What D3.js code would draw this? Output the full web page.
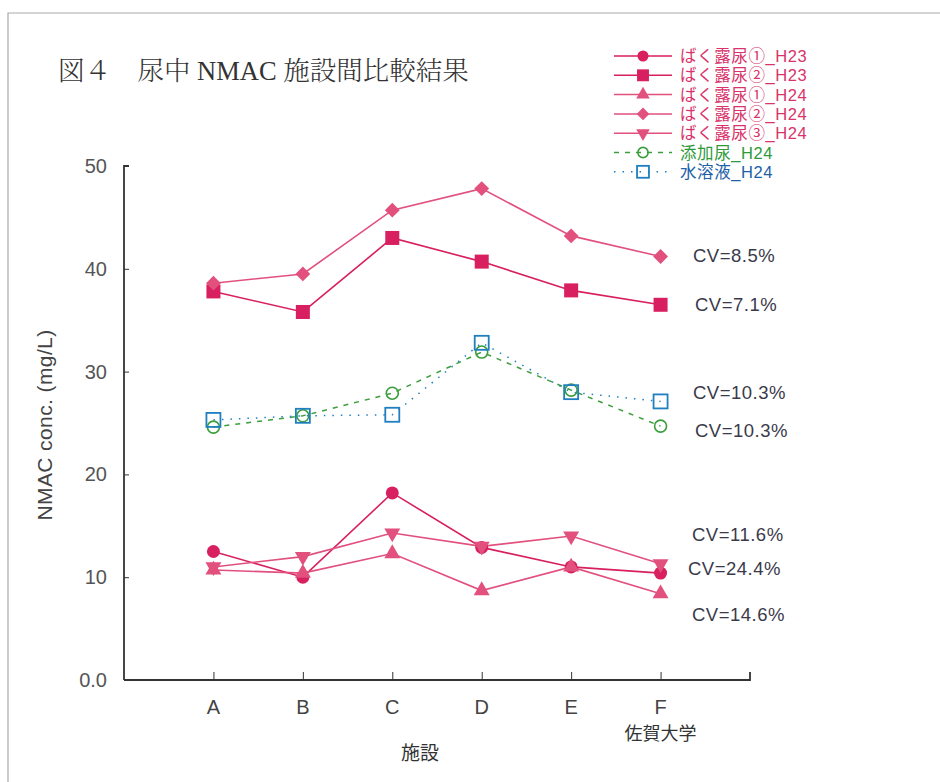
<!DOCTYPE html>
<html><head><meta charset="utf-8">
<script src="https://cdn.jsdelivr.net/npm/d3@7"></script>
<style>body{margin:0;background:#fff}svg{display:block}</style>
</head><body>
<svg id="c" width="940" height="782"></svg>
<script>
const categories = ["A","B","C","D","E","F"];
const seriesNames = ["ばく露尿①_H23","ばく露尿②_H23","ばく露尿①_H24","ばく露尿②_H24","ばく露尿③_H24","添加尿_H24","水溶液_H24"];
const exp1H23 = [12.5,10.0,18.2,12.9,11.0,10.4];
const exp2H23 = [37.8,35.8,43.0,40.7,37.9,36.5];
const exp1H24 = [10.7,10.4,12.3,8.7,11.0,8.4];
const exp2H24 = [38.6,39.5,45.7,47.8,43.2,41.2];
const exp3H24 = [11.0,12.0,14.3,13.0,14.0,11.3];
const spikedH24 = [24.6,25.7,27.9,31.9,28.2,24.7];
const aqueousH24 = [25.3,25.7,25.8,32.8,28.0,27.1];
const yTicks = [0,10,20,30,40,50];
const cvLabels = [
  {text:"CV=8.5%", v:41.2},{text:"CV=7.1%", v:36.5},
  {text:"CV=10.3%", v:27.9},{text:"CV=10.3%", v:24.2},
  {text:"CV=11.6%", v:14.1},{text:"CV=24.4%", v:10.8},{text:"CV=14.6%", v:6.3}
];
const cvX = [693,695,693,695,692,688,692];

const svg = d3.select("#c");
const pink = "#d81f5f", pink2 = "#e2507e", green = "#3c9e3c", blue = "#1f7fc0";
const series = [
  {name:seriesNames[0], vals:exp1H23, color:pink, sym:"circle", fill:true, dash:null, tc:"#d8336a"},
  {name:seriesNames[1], vals:exp2H23, color:pink, sym:"square", fill:true, dash:null, tc:"#d8336a"},
  {name:seriesNames[2], vals:exp1H24, color:pink2, sym:"tri", fill:true, dash:null, tc:"#d8336a"},
  {name:seriesNames[3], vals:exp2H24, color:pink2, sym:"diamond", fill:true, dash:null, tc:"#d8336a"},
  {name:seriesNames[4], vals:exp3H24, color:pink2, sym:"trid", fill:true, dash:null, tc:"#d8336a"},
  {name:seriesNames[5], vals:spikedH24, color:green, sym:"ocircle", fill:false, dash:"5,6", tc:"#2e9a3a"},
  {name:seriesNames[6], vals:aqueousH24, color:blue, sym:"osquare", fill:false, dash:"1.5,7", tc:"#1d5fa8"}
];

// frame
svg.append("path").attr("d","M8,782 V13 H940").attr("fill","none").attr("stroke","#aaa").attr("stroke-width",1.2);

// title
svg.append("text").attr("x",58).attr("y",80)
  .attr("font-family","'Liberation Serif','Noto Serif CJK JP','Noto Sans CJK JP',serif")
  .attr("font-size",26.5).attr("fill","#333").attr("font-weight",300)
  .text("図４　尿中 NMAC 施設間比較結果");

const x = d3.scaleLinear().domain([0,7]).range([124,750]);
const y = d3.scaleLinear().domain([0,50]).range([680,166]);

// axes
const gy = svg.append("g").attr("transform","translate(124,0)")
  .call(d3.axisRight(y).tickValues(yTicks).tickSize(5).tickFormat(()=>"" ));
gy.select(".domain").attr("d",`M5,${y(50)}H0V${y(0)}`).attr("stroke","#333").attr("stroke-width",1.8);
gy.selectAll(".tick line").attr("stroke","#333");
svg.append("g").selectAll("text").data(yTicks).join("text")
  .attr("x",107).attr("y",d=>y(d)+7).attr("text-anchor","end")
  .attr("font-family","Arial,'Liberation Sans',sans-serif").attr("font-size",20).attr("fill","#555")
  .text(d=>d===0?"0.0":d);

const gx = svg.append("g").attr("transform","translate(0,680)")
  .call(d3.axisTop(x).tickValues([1,2,3,4,5,6]).tickSize(8).tickFormat(""));
gx.select(".domain").attr("d",`M124,0H750V-8`).attr("stroke","#333").attr("stroke-width",1.8);
gx.selectAll(".tick line").attr("stroke","#333");
svg.append("g").selectAll("text").data(categories).join("text")
  .attr("x",(d,i)=>x(i+1)).attr("y",714).attr("text-anchor","middle")
  .attr("font-family","Arial,'Liberation Sans',sans-serif").attr("font-size",20).attr("fill","#444")
  .text(d=>d);
svg.append("text").attr("x",x(6)).attr("y",740).attr("text-anchor","middle")
  .attr("font-family","'Noto Sans CJK JP',sans-serif").attr("font-size",18).attr("fill","#333").text("佐賀大学");
svg.append("text").attr("x",420).attr("y",760).attr("text-anchor","middle")
  .attr("font-family","'Noto Sans CJK JP',sans-serif").attr("font-size",19).attr("fill","#333").text("施設");
svg.append("text").attr("transform","translate(52,425) rotate(-90)").attr("text-anchor","middle")
  .attr("font-family","Arial,'Liberation Sans',sans-serif").attr("font-size",21).attr("fill","#444")
  .attr("letter-spacing",0.4)
  .text("NMAC conc. (mg/L)");

function drawSym(g, s, cx, cy, scale){
  const k = scale||1;
  if(s.sym==="circle") g.append("circle").attr("cx",cx).attr("cy",cy).attr("r",6.5*k).attr("fill",s.color);
  else if(s.sym==="square") g.append("rect").attr("x",cx-7*k).attr("y",cy-7*k).attr("width",14*k).attr("height",14*k).attr("fill",s.color);
  else if(s.sym==="tri") g.append("path").attr("d",d3.symbol(d3.symbolTriangle,110*k*k)()).attr("transform",`translate(${cx},${cy})`).attr("fill",s.color);
  else if(s.sym==="trid") g.append("path").attr("d",d3.symbol(d3.symbolTriangle,110*k*k)()).attr("transform",`translate(${cx},${cy}) rotate(180)`).attr("fill",s.color);
  else if(s.sym==="diamond") g.append("path").attr("d",d3.symbol(d3.symbolSquare,110*k*k)()).attr("transform",`translate(${cx},${cy}) rotate(45)`).attr("fill",s.color);
  else if(s.sym==="ocircle") g.append("circle").attr("cx",cx).attr("cy",cy).attr("r",6*k).attr("fill","none").attr("stroke",s.color).attr("stroke-width",1.6);
  else if(s.sym==="osquare") g.append("rect").attr("x",cx-7*k).attr("y",cy-7*k).attr("width",14*k).attr("height",14*k).attr("fill","none").attr("stroke",s.color).attr("stroke-width",1.8);
}

const line = d3.line().x((d,i)=>x(i+1)).y(d=>y(d));
series.forEach(s=>{
  svg.append("path").datum(s.vals).attr("d",line).attr("fill","none")
    .attr("stroke",s.color).attr("stroke-width",s.fill?1.6:1.5)
    .attr("stroke-dasharray",s.dash);
});
series.forEach(s=>{
  const g = svg.append("g");
  s.vals.forEach((v,i)=>drawSym(g,s,x(i+1),y(v)));
});

// CV labels
svg.append("g").selectAll("text").data(cvLabels).join("text")
  .attr("x",(d,i)=>cvX[i]).attr("y",d=>y(d.v)+6)
  .attr("font-family","Arial,'Liberation Sans',sans-serif").attr("font-size",18.5).attr("fill","#3a3a4a")
  .attr("letter-spacing",0.5)
  .text(d=>d.text);

// legend
const lg = svg.append("g");
series.forEach((s,i)=>{
  const ly = 56 + i*19.3;
  lg.append("line").attr("x1",614).attr("x2",672).attr("y1",ly).attr("y2",ly)
    .attr("stroke",s.color).attr("stroke-width",1.5).attr("stroke-dasharray",s.dash);
  drawSym(lg,s,643,ly,0.85);
  lg.append("text").attr("x",680).attr("y",ly+6)
    .attr("font-family","Arial,'Liberation Sans','Noto Sans CJK JP',sans-serif").attr("font-size",16.5).attr("fill",s.tc)
    .attr("letter-spacing",0.6)
    .text(s.name);
});
</script>
</body></html>
